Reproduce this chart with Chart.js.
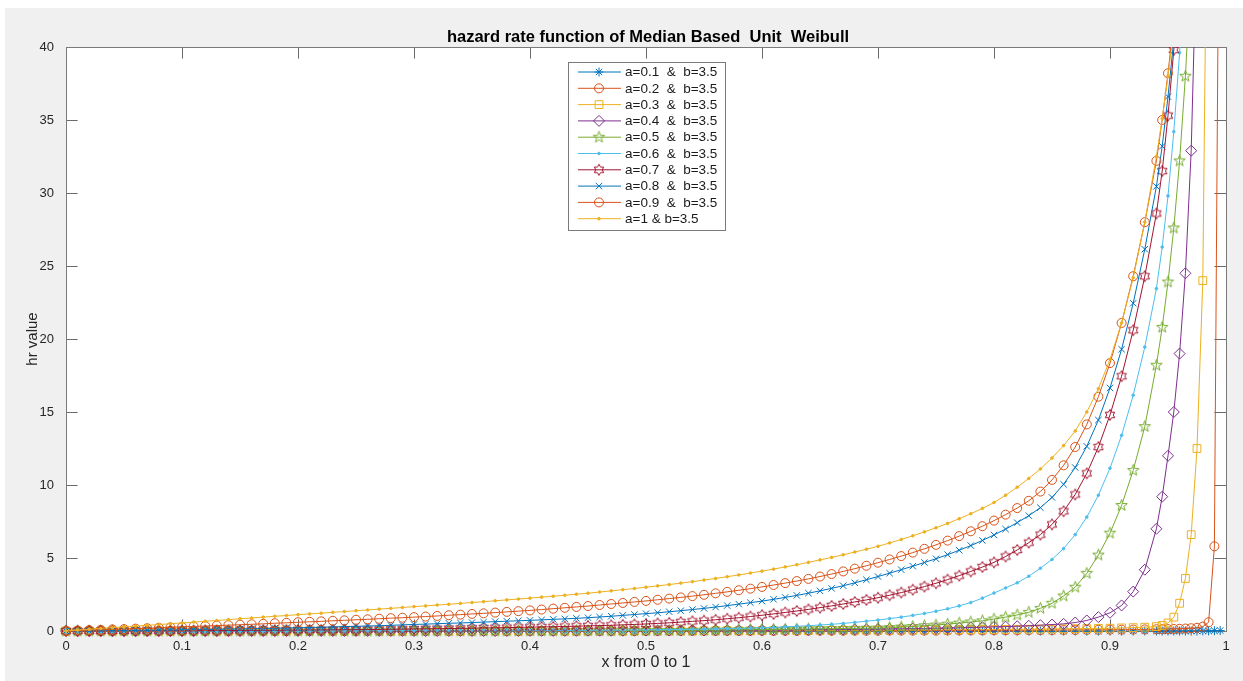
<!DOCTYPE html>
<html>
<head>
<meta charset="utf-8">
<title>hazard rate function of Median Based Unit Weibull</title>
<script src="https://cdn.jsdelivr.net/npm/chart.js"></script>
<style>
  html, body { margin: 0; padding: 0; background: #ffffff; }
  #wrap { position: absolute; left: 5px; top: 8px; width: 1238px; height: 673px; background: #f0f0f0; }
  canvas { display: block; }
</style>
</head>
<body>
<div id="wrap"><canvas id="myChart" width="1238" height="673"></canvas></div>
<script>
// x positions (0 .. 0.94 by 0.01, then 0.945 .. 0.995 by 0.005)
const xs = [
  0, 0.01, 0.02, 0.03, 0.04, 0.05, 0.06, 0.07, 0.08, 0.09,
  0.10, 0.11, 0.12, 0.13, 0.14, 0.15, 0.16, 0.17, 0.18, 0.19,
  0.20, 0.21, 0.22, 0.23, 0.24, 0.25, 0.26, 0.27, 0.28, 0.29,
  0.30, 0.31, 0.32, 0.33, 0.34, 0.35, 0.36, 0.37, 0.38, 0.39,
  0.40, 0.41, 0.42, 0.43, 0.44, 0.45, 0.46, 0.47, 0.48, 0.49,
  0.50, 0.51, 0.52, 0.53, 0.54, 0.55, 0.56, 0.57, 0.58, 0.59,
  0.60, 0.61, 0.62, 0.63, 0.64, 0.65, 0.66, 0.67, 0.68, 0.69,
  0.70, 0.71, 0.72, 0.73, 0.74, 0.75, 0.76, 0.77, 0.78, 0.79,
  0.80, 0.81, 0.82, 0.83, 0.84, 0.85, 0.86, 0.87, 0.88, 0.89,
  0.90, 0.91, 0.92, 0.93, 0.94,
  0.945, 0.95, 0.955, 0.96, 0.965, 0.97, 0.975, 0.98, 0.985, 0.99, 0.995
];

// hazard values, one list per a (b = 3.5)
const hr01 = [
  0, 0, 0, 0, 0, 0, 0, 0, 0, 0,
  0, 0, 0, 0, 0, 0, 0, 0, 0, 0,
  0, 0, 0, 0, 0, 0, 0, 0, 0, 0,
  0, 0, 0, 0, 0, 0, 0, 0, 0, 0,
  0, 0, 0, 0, 0, 0, 0, 0, 0, 0,
  0, 0, 0, 0, 0, 0, 0, 0, 0, 0,
  0, 0, 0, 0, 0, 0, 0, 0, 0, 0,
  0, 0, 0, 0, 0, 0, 0, 0, 0, 0,
  0, 0, 0, 0, 0, 0, 0, 0, 0, 0,
  0, 0, 0, 0, 0,
  0, 0, 0, 0, 0, 0, 0, 0.01, 0.01, 0.02, 0.03
];
const hr02 = [
  0, 0, 0, 0, 0, 0, 0, 0, 0, 0,
  0, 0, 0, 0, 0, 0, 0, 0, 0, 0,
  0, 0, 0, 0, 0, 0, 0, 0, 0, 0,
  0, 0, 0, 0, 0, 0, 0, 0, 0, 0,
  0, 0, 0, 0, 0, 0, 0, 0, 0, 0,
  0.01, 0.01, 0.01, 0.01, 0.01, 0.01, 0.01, 0.01, 0.01, 0.01,
  0.01, 0.01, 0.01, 0.01, 0.02, 0.02, 0.02, 0.02, 0.02, 0.02,
  0.02, 0.03, 0.03, 0.03, 0.03, 0.03, 0.04, 0.04, 0.04, 0.04,
  0.05, 0.05, 0.05, 0.06, 0.06, 0.06, 0.07, 0.07, 0.08, 0.08,
  0.09, 0.09, 0.10, 0.11, 0.12,
  0.12, 0.13, 0.14, 0.15, 0.17, 0.19, 0.22, 0.30, 0.60, 5.8, 63
];
const hr03 = [
  0, 0, 0, 0, 0, 0, 0, 0, 0, 0,
  0, 0, 0, 0, 0, 0, 0, 0, 0, 0,
  0, 0, 0, 0, 0, 0, 0, 0, 0, 0,
  0, 0, 0, 0, 0, 0, 0, 0, 0, 0,
  0, 0, 0, 0, 0, 0, 0, 0, 0, 0,
  0.01, 0.01, 0.01, 0.01, 0.01, 0.02, 0.02, 0.02, 0.02, 0.02,
  0.03, 0.03, 0.03, 0.03, 0.04, 0.04, 0.04, 0.05, 0.05, 0.05,
  0.06, 0.06, 0.07, 0.07, 0.07, 0.08, 0.08, 0.09, 0.09, 0.10,
  0.10, 0.11, 0.12, 0.12, 0.13, 0.14, 0.15, 0.16, 0.17, 0.18,
  0.19, 0.21, 0.23, 0.26, 0.30,
  0.38, 0.55, 0.95, 1.9, 3.6, 6.6, 12.5, 24.0, 62, null, null
];
const hr04 = [
  0, 0, 0, 0, 0, 0, 0, 0, 0, 0,
  0, 0, 0, 0, 0, 0, 0, 0, 0, 0,
  0, 0, 0, 0, 0, 0, 0, 0, 0, 0,
  0, 0, 0, 0, 0, 0, 0, 0, 0, 0,
  0.01, 0.01, 0.01, 0.01, 0.01, 0.02, 0.02, 0.02, 0.02, 0.02,
  0.03, 0.03, 0.03, 0.03, 0.04, 0.04, 0.04, 0.05, 0.05, 0.05,
  0.06, 0.06, 0.07, 0.07, 0.08, 0.09, 0.09, 0.10, 0.11, 0.12,
  0.13, 0.14, 0.15, 0.16, 0.17, 0.19, 0.20, 0.22, 0.24, 0.26,
  0.28, 0.30, 0.33, 0.36, 0.40, 0.44, 0.49, 0.58, 0.72, 0.95,
  1.25, 1.75, 2.7, 4.2, 7.0,
  9.2, 12.0, 15.0, 19.0, 24.5, 32.9, 48, null, null, null, null
];
const hr05 = [
  0, 0, 0, 0, 0, 0, 0, 0, 0, 0,
  0, 0, 0, 0, 0, 0, 0, 0, 0, 0,
  0, 0, 0, 0, 0, 0, 0, 0, 0, 0,
  0.01, 0.01, 0.01, 0.01, 0.01, 0.01, 0.01, 0.01, 0.01, 0.01,
  0.01, 0.01, 0.01, 0.02, 0.02, 0.02, 0.02, 0.02, 0.03, 0.03,
  0.03, 0.03, 0.04, 0.04, 0.05, 0.05, 0.06, 0.07, 0.08, 0.09,
  0.10, 0.11, 0.12, 0.13, 0.14, 0.15, 0.16, 0.17, 0.18, 0.19,
  0.20, 0.23, 0.27, 0.31, 0.36, 0.41, 0.47, 0.54, 0.62, 0.70,
  0.82, 0.95, 1.10, 1.28, 1.55, 1.90, 2.40, 3.00, 3.95, 5.20,
  6.7, 8.6, 11.0, 14.0, 18.2,
  20.8, 23.9, 27.6, 32.2, 38.0, 45.5, null, null, null, null, null
];
const hr06 = [
  0, 0, 0, 0, 0, 0, 0, 0, 0, 0,
  0, 0, 0, 0, 0, 0, 0, 0, 0, 0,
  0.01, 0.01, 0.01, 0.01, 0.01, 0.01, 0.01, 0.01, 0.01, 0.01,
  0.01, 0.01, 0.01, 0.01, 0.02, 0.02, 0.02, 0.02, 0.02, 0.03,
  0.03, 0.03, 0.04, 0.04, 0.04, 0.05, 0.05, 0.06, 0.06, 0.07,
  0.08, 0.09, 0.10, 0.11, 0.12, 0.13, 0.15, 0.16, 0.18, 0.20,
  0.22, 0.25, 0.28, 0.32, 0.36, 0.41, 0.46, 0.52, 0.59, 0.67,
  0.75, 0.85, 0.95, 1.07, 1.20, 1.35, 1.52, 1.72, 1.95, 2.25,
  2.60, 2.95, 3.30, 3.75, 4.30, 4.90, 5.65, 6.60, 7.80, 9.30,
  11.15, 13.4, 16.15, 19.45, 23.45,
  26.3, 29.8, 34.2, 39.6, 46, null, null, null, null, null, null
];
const hr07 = [
  0, 0, 0, 0, 0.01, 0.01, 0.01, 0.01, 0.02, 0.02,
  0.02, 0.02, 0.03, 0.03, 0.03, 0.04, 0.04, 0.05, 0.05, 0.06,
  0.06, 0.07, 0.07, 0.08, 0.09, 0.09, 0.10, 0.11, 0.12, 0.13,
  0.14, 0.15, 0.16, 0.17, 0.18, 0.19, 0.21, 0.22, 0.23, 0.25,
  0.26, 0.28, 0.29, 0.31, 0.33, 0.35, 0.37, 0.39, 0.42, 0.45,
  0.48, 0.52, 0.56, 0.61, 0.66, 0.71, 0.77, 0.84, 0.91, 0.99,
  1.08, 1.17, 1.27, 1.37, 1.48, 1.60, 1.72, 1.85, 1.99, 2.13,
  2.28, 2.45, 2.63, 2.83, 3.04, 3.27, 3.52, 3.79, 4.08, 4.38,
  4.70, 5.10, 5.55, 6.05, 6.60, 7.30, 8.20, 9.35, 10.8, 12.6,
  14.8, 17.45, 20.6, 24.3, 28.6,
  31.5, 35.3, 39.8, 45, null, null, null, null, null, null, null
];
const hr08 = [
  0, 0.01, 0.01, 0.02, 0.02, 0.03, 0.04, 0.05, 0.06, 0.07,
  0.08, 0.09, 0.10, 0.12, 0.13, 0.14, 0.16, 0.17, 0.19, 0.21,
  0.22, 0.24, 0.26, 0.28, 0.30, 0.32, 0.34, 0.36, 0.39, 0.42,
  0.45, 0.47, 0.50, 0.53, 0.55, 0.58, 0.61, 0.64, 0.67, 0.70,
  0.73, 0.76, 0.80, 0.83, 0.87, 0.91, 0.96, 1.01, 1.07, 1.13,
  1.19, 1.25, 1.32, 1.39, 1.47, 1.55, 1.64, 1.74, 1.84, 1.94,
  2.05, 2.17, 2.30, 2.44, 2.59, 2.75, 2.92, 3.10, 3.30, 3.51,
  3.73, 3.96, 4.20, 4.44, 4.69, 4.95, 5.23, 5.53, 5.85, 6.20,
  6.58, 6.98, 7.42, 7.90, 8.45, 9.15, 10.05, 11.2, 12.65, 14.45,
  16.65, 19.3, 22.45, 26.15, 30.45,
  33.2, 36.6, 40.5, null, null, null, null, null, null, null, null
];
const hr09 = [
  0, 0.03, 0.06, 0.08, 0.11, 0.13, 0.16, 0.19, 0.22, 0.25,
  0.28, 0.31, 0.34, 0.37, 0.40, 0.43, 0.46, 0.49, 0.53, 0.56,
  0.60, 0.63, 0.66, 0.70, 0.73, 0.77, 0.80, 0.84, 0.88, 0.91,
  0.95, 0.99, 1.03, 1.08, 1.12, 1.17, 1.21, 1.26, 1.31, 1.36,
  1.41, 1.47, 1.53, 1.59, 1.65, 1.71, 1.78, 1.85, 1.92, 1.99,
  2.06, 2.14, 2.22, 2.30, 2.39, 2.48, 2.58, 2.68, 2.79, 2.90,
  3.02, 3.15, 3.28, 3.42, 3.57, 3.73, 3.90, 4.08, 4.27, 4.47,
  4.68, 4.90, 5.13, 5.37, 5.63, 5.90, 6.19, 6.50, 6.83, 7.18,
  7.56, 7.97, 8.42, 8.92, 9.55, 10.35, 11.35, 12.6, 14.15, 16.05,
  18.35, 21.1, 24.3, 28.0, 32.2,
  35.0, 38.2, 41.8, null, null, null, null, null, null, null, null
];
const hr10 = [
  0, 0.06, 0.12, 0.18, 0.23, 0.28, 0.34, 0.39, 0.44, 0.50,
  0.55, 0.61, 0.67, 0.72, 0.78, 0.84, 0.89, 0.95, 1.01, 1.06,
  1.12, 1.17, 1.22, 1.28, 1.33, 1.39, 1.44, 1.50, 1.55, 1.61,
  1.67, 1.72, 1.78, 1.83, 1.89, 1.95, 2.01, 2.07, 2.13, 2.19,
  2.25, 2.32, 2.38, 2.45, 2.52, 2.59, 2.67, 2.75, 2.83, 2.91,
  3.00, 3.09, 3.18, 3.28, 3.38, 3.49, 3.60, 3.72, 3.84, 3.97,
  4.10, 4.24, 4.39, 4.54, 4.70, 4.87, 5.04, 5.22, 5.41, 5.60,
  5.80, 6.03, 6.27, 6.52, 6.79, 7.07, 7.37, 7.69, 8.03, 8.40,
  8.80, 9.30, 9.85, 10.45, 11.1, 11.85, 12.7, 13.7, 15.0, 16.6,
  18.6, 21.1, 24.2, 28.0, 32.5,
  35.1, 38.0, 41.2, null, null, null, null, null, null, null, null
];

const seriesLabels = [
  'a=0.1  &  b=3.5', 'a=0.2  &  b=3.5', 'a=0.3  &  b=3.5', 'a=0.4  &  b=3.5',
  'a=0.5  &  b=3.5', 'a=0.6  &  b=3.5', 'a=0.7  &  b=3.5', 'a=0.8  &  b=3.5',
  'a=0.9  &  b=3.5', 'a=1 & b=3.5'
];

const chartTitle = 'hazard rate function of Median Based  Unit  Weibull';

const FONT = '"Liberation Sans", Arial, Helvetica, sans-serif';
const colors = ['#0072BD', '#D95319', '#EDB120', '#7E2F8E', '#77AC30',
                '#4DBEEE', '#A2142F', '#0072BD', '#D95319', '#EDB120'];

// matlab pentagram / hexagram markers as small canvases
function starMarker(points, color, outer, inner) {
  const size = Math.ceil(outer * 2 + 3);
  const c = document.createElement('canvas');
  c.width = size; c.height = size;
  const g = c.getContext('2d');
  g.strokeStyle = color;
  g.lineWidth = 1;
  g.beginPath();
  for (let i = 0; i < points * 2; i++) {
    const r = i % 2 ? inner : outer;
    const ang = -Math.PI / 2 + i * Math.PI / points;
    g.lineTo(size / 2 + r * Math.cos(ang), size / 2 + r * Math.sin(ang));
  }
  g.closePath();
  g.stroke();
  return c;
}

const markers = [
  { style: 'star', radius: 4.5, fill: false },
  { style: 'circle', radius: 4.5, fill: false },
  { style: 'rect', radius: 5.5, fill: false },
  { style: 'rectRot', radius: 5.5, fill: false },
  { style: starMarker(5, colors[4], 6, 2.4), radius: 5, fill: false },
  { style: 'circle', radius: 1.3, fill: true },
  { style: starMarker(6, colors[6], 5.5, 3.2), radius: 5, fill: false },
  { style: 'crossRot', radius: 4.5, fill: false },
  { style: 'circle', radius: 4.5, fill: false },
  { style: 'circle', radius: 1.3, fill: true }
];

const series = [hr01, hr02, hr03, hr04, hr05, hr06, hr07, hr08, hr09, hr10];

const datasets = series.map((vals, i) => ({
  label: seriesLabels[i],
  data: xs.map((x, j) => ({ x: x, y: vals[j] })),
  borderColor: colors[i],
  borderWidth: 1,
  pointStyle: markers[i].style,
  pointRadius: markers[i].radius,
  pointBorderColor: colors[i],
  pointBackgroundColor: markers[i].fill ? colors[i] : 'rgba(0,0,0,0)',
  pointBorderWidth: 1,
  tension: 0,
  spanGaps: false,
  clip: { left: 6, right: 6, top: 0, bottom: 6 },
  order: series.length - i
}));

// white axes background, box with inward ticks, title over the axes, legend inside
const matlabAxes = {
  id: 'matlabAxes',
  beforeDraw(chart) {
    const { ctx, chartArea: a } = chart;
    ctx.save();
    ctx.fillStyle = '#ffffff';
    ctx.fillRect(a.left, a.top, a.right - a.left, a.bottom - a.top);
    ctx.fillStyle = '#000000';
    ctx.font = 'bold 16.5px ' + FONT;
    ctx.textAlign = 'center';
    ctx.textBaseline = 'middle';
    ctx.fillText(chartTitle, (a.left + a.right) / 2 + 2, a.top - 10);
    ctx.restore();
  },
  beforeDatasetsDraw(chart) {
    const { ctx, chartArea: a, scales } = chart;
    const len = 11.6;
    ctx.save();
    ctx.strokeStyle = '#6a6a6a';
    ctx.lineWidth = 1;
    ctx.beginPath();
    scales.x.ticks.forEach(t => {
      const px = Math.round(scales.x.getPixelForValue(t.value)) + 0.5;
      ctx.moveTo(px, a.bottom); ctx.lineTo(px, a.bottom - len);
      ctx.moveTo(px, a.top); ctx.lineTo(px, a.top + len);
    });
    scales.y.ticks.forEach(t => {
      const py = Math.round(scales.y.getPixelForValue(t.value)) + 0.5;
      ctx.moveTo(a.left, py); ctx.lineTo(a.left + len, py);
      ctx.moveTo(a.right, py); ctx.lineTo(a.right - len, py);
    });
    ctx.stroke();
    ctx.strokeStyle = '#7a7a7a';
    ctx.strokeRect(Math.round(a.left) + 0.5, Math.round(a.top) + 0.5,
                   Math.round(a.right - a.left), Math.round(a.bottom - a.top));
    ctx.restore();
  },
  afterDatasetsDraw(chart) {
    const { ctx, chartArea: a } = chart;
    const w = 157, h = 168, rowH = 16.3;
    const left = Math.round((a.left + a.right) / 2 - w / 2);
    const top = Math.round(a.top + 15);
    ctx.save();
    ctx.fillStyle = '#ffffff';
    ctx.fillRect(left, top, w, h);
    ctx.strokeStyle = '#7a7a7a';
    ctx.lineWidth = 1;
    ctx.strokeRect(left + 0.5, top + 0.5, w, h);
    chart.data.datasets.forEach((ds, i) => {
      const y = top + 10 + i * rowH;
      ctx.strokeStyle = ds.borderColor;
      ctx.beginPath();
      ctx.moveTo(left + 10, y);
      ctx.lineTo(left + 53, y);
      ctx.stroke();
      ctx.fillStyle = ds.pointBackgroundColor;
      ctx.strokeStyle = ds.pointBorderColor;
      ctx.lineWidth = 1;
      Chart.helpers.drawPoint(ctx, { pointStyle: ds.pointStyle, radius: ds.pointRadius, borderWidth: 1, rotation: 0 }, left + 31, y);
      ctx.fillStyle = '#1a1a1a';
      ctx.font = '13.5px ' + FONT;
      ctx.textAlign = 'left';
      ctx.textBaseline = 'middle';
      ctx.fillText(ds.label, left + 57, y + 0.5);
    });
    ctx.restore();
  }
};

const graphic = document.getElementById('myChart').getContext('2d');

const myChart = new Chart(graphic, {
  type: 'line',
  data: { datasets: datasets },
  options: {
    responsive: false,
    animation: false,
    events: [],
    layout: { padding: { top: 39, right: 17, bottom: 0, left: 0 } },
    plugins: {
      legend: { display: false },
      tooltip: { enabled: false },
      title: { display: false }
    },
    scales: {
      x: {
        type: 'linear',
        min: 0,
        max: 1,
        ticks: {
          stepSize: 0.1,
          autoSkip: false,
          maxRotation: 0,
          padding: 8,
          color: '#262626',
          font: { family: FONT, size: 13 },
          callback: (v) => String(Math.round(v * 10) / 10)
        },
        grid: { display: false, drawTicks: false },
        border: { display: false },
        title: {
          display: true,
          text: 'x from 0 to 1',
          color: '#262626',
          font: { family: FONT, size: 16 },
          padding: { top: 0, bottom: 9 }
        },
        afterFit: (scale) => { scale.height = 50; }
      },
      y: {
        type: 'linear',
        min: 0,
        max: 40,
        ticks: {
          stepSize: 5,
          padding: 12,
          color: '#262626',
          font: { family: FONT, size: 13 }
        },
        grid: { display: false, drawTicks: false },
        border: { display: false },
        title: {
          display: true,
          text: 'hr value',
          color: '#262626',
          font: { family: FONT, size: 15 },
          padding: { top: 19, bottom: 0 }
        },
        afterFit: (scale) => { scale.width = 61; }
      }
    }
  },
  plugins: [matlabAxes]
});
</script>
</body>
</html>
